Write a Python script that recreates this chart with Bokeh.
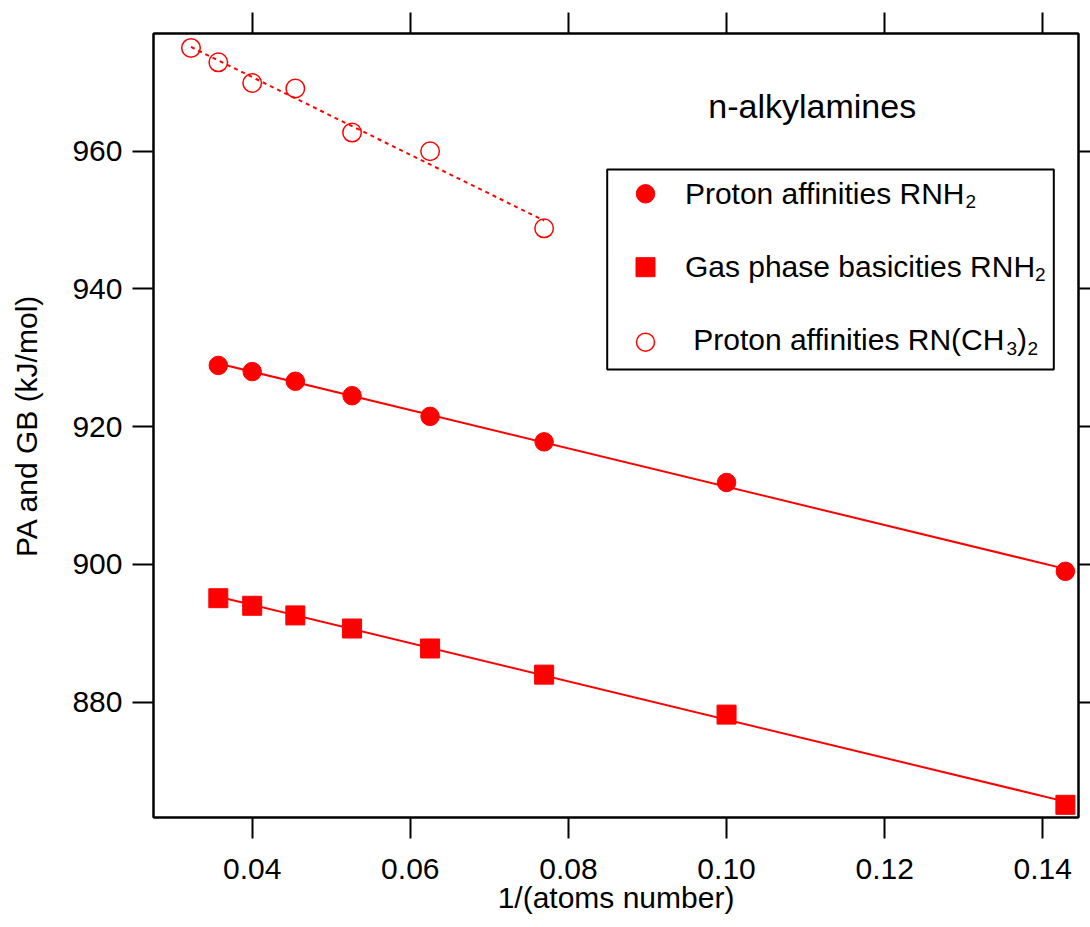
import numpy as np
from bokeh.plotting import figure
from bokeh.models import LinearAxis, FixedTicker, NumeralTickFormatter, Range1d, BoxAnnotation
from bokeh.core.properties import value
from bokeh.embed import file_html
from bokeh.resources import INLINE

# ---------------- data ----------------
inv_atoms = [1/28, 1/25, 1/22, 1/19, 1/16, 1/13, 1/10, 1/7]
pa_rnh2 = [928.9, 928.0, 926.6, 924.5, 921.5, 917.8, 911.9, 899.0]
gb_rnh2 = [895.1, 894.0, 892.6, 890.7, 887.8, 884.0, 878.2, 865.1]
inv_atoms_dm = [1/31, 1/28, 1/25, 1/22, 1/19, 1/16, 1/13]
pa_rnme2 = [975.0, 972.9, 969.9, 969.1, 962.7, 960.0, 948.8]

x_ticks = [0.04, 0.06, 0.08, 0.10, 0.12, 0.14]
y_ticks = [880, 900, 920, 940, 960]

legend_labels = ["Proton affinities RNH", "Gas phase basicities RNH", "Proton affinities RN(CH"]
title_text = "n-alkylamines"
x_title = "1/(atoms number)"
y_title = "PA and GB (kJ/mol)"

# ---------------- layout ----------------
X0, X1 = 0.027516, 0.144516
Y0, Y1 = 863.26, 977.09
FL, FR, FT, FB = 153, 1078, 33, 817   # frame edges in page pixels
RED = "#ff0000"
FONT = value("Liberation Sans")
TXT_DY = 9   # text glyph baseline correction (px)


def px(xp):
    return X0 + (xp - FL) / (FR - FL) * (X1 - X0)


def py(yp):
    return Y1 - (yp - FT) / (FB - FT) * (Y1 - Y0)


p = figure(frame_width=FR - FL, frame_height=FB - FT,
           x_range=Range1d(X0, X1), y_range=Range1d(Y0, Y1),
           output_backend="svg", toolbar_location=None,
           min_border_left=FL, min_border_top=FT,
           min_border_right=12, min_border_bottom=10,
           background_fill_color="white", border_fill_color="white")
p.grid.visible = False
p.outline_line_color = "black"
p.outline_line_width = 2


def style_axis(ax, labels=True):
    ax.axis_line_color = "black"
    ax.axis_line_width = 2
    ax.major_tick_line_color = "black"
    ax.major_tick_line_width = 2
    ax.major_tick_in = 0
    ax.major_tick_out = 21
    ax.minor_tick_line_color = None
    ax.major_label_text_font = "Liberation Sans"
    if labels:
        ax.major_label_text_font_size = "30px"
        ax.major_label_text_color = "black"
    else:
        ax.major_label_text_font_size = "0px"
        ax.major_label_text_color = None
    ax.axis_label_text_font = "Liberation Sans"
    ax.axis_label_text_font_size = "30px"
    ax.axis_label_text_font_style = "normal"
    ax.axis_label_text_color = "black"


xax = p.xaxis[0]
xax.ticker = FixedTicker(ticks=x_ticks)
xax.formatter = NumeralTickFormatter(format="0.00")
xax.axis_label = x_title
style_axis(xax)
xax.major_label_standoff = 20
xax.axis_label_standoff = -1

yax = p.yaxis[0]
yax.ticker = FixedTicker(ticks=y_ticks)
yax.axis_label = y_title
style_axis(yax)
yax.major_label_standoff = 10
yax.axis_label_standoff = 26

top = LinearAxis(ticker=FixedTicker(ticks=x_ticks))
style_axis(top, labels=False)
top.major_label_standoff = 0
p.add_layout(top, "above")

right = LinearAxis(ticker=FixedTicker(ticks=y_ticks))
style_axis(right, labels=False)
right.major_label_standoff = 0
right.major_tick_out = 12
p.add_layout(right, "right")

# ---------------- fits ----------------
for xs, ys, dash in [(inv_atoms, pa_rnh2, "solid"), (inv_atoms, gb_rnh2, "solid"),
                     (inv_atoms_dm, pa_rnme2, "4 4")]:
    xs_a = np.array(xs)
    k, b = np.polyfit(xs_a, np.array(ys), 1)
    xe = np.array([xs_a.min(), xs_a.max()])
    p.line(xe, k * xe + b, line_color=RED, line_width=2, line_dash=dash)

# ---------------- points ----------------
p.scatter(inv_atoms, pa_rnh2, marker="circle", size=18.5, fill_color=RED, line_color=RED)
p.scatter(inv_atoms, gb_rnh2, marker="square", size=19, fill_color=RED, line_color=RED)
p.scatter(inv_atoms_dm, pa_rnme2, marker="circle", size=18.5, fill_color=None,
          line_color=RED, line_width=1.5)

# ---------------- title ----------------
p.text(x=[px(811.7)], y=[py(115 - TXT_DY - 1)], text=[title_text], text_font=FONT,
       text_font_size="34px", text_align="center", text_baseline="alphabetic",
       text_color="black")

# ---------------- legend ----------------
p.add_layout(BoxAnnotation(left=px(606.7), right=px(1053.3), top=py(169), bottom=py(369),
                           fill_alpha=0, line_color="black", line_alpha=1, line_width=2))
p.scatter([px(645)], [py(193.3)], marker="circle", size=18.5, fill_color=RED, line_color=RED)
p.scatter([px(645)], [py(266.7)], marker="square", size=19, fill_color=RED, line_color=RED)
p.scatter([px(645)], [py(341.7)], marker="circle", size=18, fill_color=None,
          line_color=RED, line_width=1.5)
p.text(x=[px(684.4), px(684.4), px(692.7)],
       y=[py(201.7 - TXT_DY), py(275 - TXT_DY), py(348.3 - TXT_DY)],
       text=legend_labels, text_font=FONT, text_font_size="30px", text_align="left",
       text_baseline="alphabetic", text_color="black")
p.text(x=[px(965), px(1034.5), px(1006), px(1027)],
       y=[py(210 - TXT_DY), py(283.3 - TXT_DY), py(356.7 - TXT_DY), py(356.7 - TXT_DY)],
       text=["2", "2", "3", "2"], text_font=FONT, text_font_size="19px",
       text_align="left", text_baseline="alphabetic", text_color="black")
p.text(x=[px(1016.6)], y=[py(348.3 - TXT_DY)], text=[")"], text_font=FONT,
       text_font_size="30px", text_align="left", text_baseline="alphabetic",
       text_color="black")

open("out.html", "w").write(file_html(p, INLINE))
